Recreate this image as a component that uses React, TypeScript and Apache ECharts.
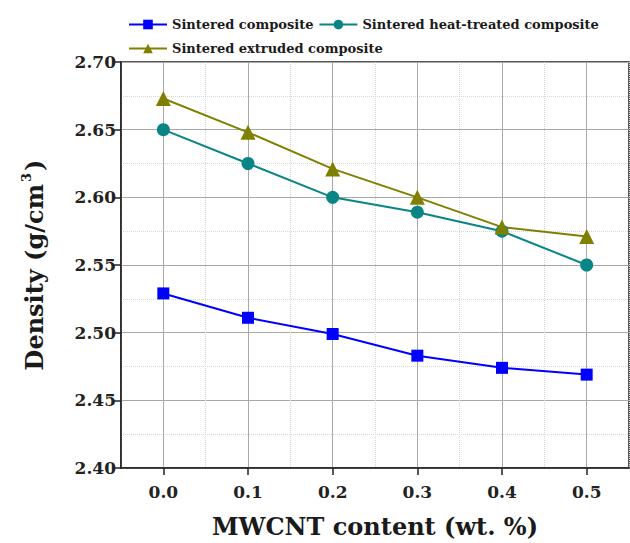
import React, { useEffect, useRef } from "react";
import * as echarts from "echarts";

const xValues = [0, 0.1, 0.2, 0.3, 0.4, 0.5];
const xTickValues = [0, 0.1, 0.2, 0.3, 0.4, 0.5];
const sinteredComposite = [2.529, 2.511, 2.499, 2.483, 2.474, 2.469];
const heatTreatedComposite = [2.65, 2.625, 2.6, 2.589, 2.575, 2.55];
const extrudedComposite = [2.673, 2.648, 2.621, 2.6, 2.578, 2.571];
const seriesNames = [
  "Sintered composite",
  "Sintered heat-treated composite",
  "Sintered extruded composite",
];

const FONT = "DejaVu Serif";

export default function App() {
  const ref = useRef<HTMLDivElement>(null);
  useEffect(() => {
    if (!ref.current) return;
    const chart = echarts.init(ref.current, null, { renderer: "svg" });
    const pair = (ys: number[]) => xValues.map((x, i) => [x, ys[i]]);
    const legendText = { fontFamily: FONT, fontWeight: "bold", fontSize: 13, color: "#1a1a1a" };
    chart.setOption({
      animation: false,
      backgroundColor: "#ffffff",
      legend: [
        {
          data: [seriesNames[0], seriesNames[1]],
          left: 123,
          top: 13,
          itemWidth: 38,
          itemHeight: 12,
          itemGap: 5,
          textStyle: legendText,
        },
        {
          data: [seriesNames[2]],
          left: 123,
          top: 37,
          itemWidth: 38,
          itemHeight: 12,
          textStyle: legendText,
        },
      ],
      grid: {
        left: 121,
        top: 62,
        width: 508,
        height: 408,
        show: true,
        borderColor: "#222",
        borderWidth: 1.5,
        backgroundColor: "transparent",
      },
      xAxis: [
        {
          type: "value",
          min: -0.05,
          max: 0.55,
          interval: 0.1,
          name: "MWCNT content (wt. %)",
          nameLocation: "middle",
          nameGap: 46,
          nameTextStyle: { fontFamily: FONT, fontWeight: "bold", fontSize: 24, color: "#1a1a1a" },
          axisLine: { show: true, onZero: false, lineStyle: { color: "#222", width: 1.5 } },
          axisTick: { show: true, customValues: xTickValues, length: 7, lineStyle: { color: "#222", width: 1.5 } },
          axisLabel: {
            customValues: xTickValues,
            margin: 15,
            formatter: (v: number) => v.toFixed(1),
            fontFamily: FONT,
            fontWeight: "bold",
            fontSize: 17,
            color: "#222",
          },
          splitLine: { show: true, lineStyle: { color: "#a8a8a8", width: 1 } },
        },
        {
          type: "value",
          min: -0.05,
          max: 0.55,
          interval: 0.1,
          position: "bottom",
          axisLine: { show: false },
          axisTick: { show: false },
          axisLabel: { show: false },
          splitLine: { show: true, lineStyle: { color: "#d6d6d6", width: 1, type: "dotted" } },
        },
      ],
      yAxis: {
        type: "value",
        min: 2.4,
        max: 2.7,
        interval: 0.05,
        name: "{a|Density (g/cm}{s|3}{a|)}",
        nameLocation: "middle",
        nameGap: 72,
        nameTextStyle: {
          rich: {
            a: { fontFamily: FONT, fontWeight: "bold", fontSize: 24, color: "#1a1a1a" },
            s: { fontFamily: FONT, fontWeight: "bold", fontSize: 13, color: "#1a1a1a", verticalAlign: "top", padding: [0, 2, 16, 2] },
          },
        },
        axisLine: { show: true, onZero: false, lineStyle: { color: "#222", width: 1.5 } },
        axisTick: { show: true, length: 8, lineStyle: { color: "#222", width: 1.5 } },
        axisLabel: {
          margin: 5,
          formatter: (v: number) => v.toFixed(2),
          fontFamily: FONT,
          fontWeight: "bold",
          fontSize: 17,
          color: "#222",
        },
        splitLine: { show: true, lineStyle: { color: "#a8a8a8", width: 1 } },
        minorTick: { show: false, splitNumber: 2 },
        minorSplitLine: { show: true, lineStyle: { color: "#d6d6d6", width: 1, type: "dotted" } },
      },
      series: [
        {
          name: seriesNames[0],
          type: "line",
          data: pair(sinteredComposite),
          symbol: "rect",
          symbolSize: 12,
          color: "#0000ff",
          lineStyle: { width: 2, color: "#0000ff" },
          itemStyle: { color: "#0000ff" },
          z: 3,
        },
        {
          name: seriesNames[1],
          type: "line",
          data: pair(heatTreatedComposite),
          symbol: "circle",
          symbolSize: 13,
          color: "#0a8585",
          lineStyle: { width: 2, color: "#0a8585" },
          itemStyle: { color: "#0a8585" },
          z: 3,
        },
        {
          name: seriesNames[2],
          type: "line",
          data: pair(extrudedComposite),
          symbol: "triangle",
          symbolSize: 15,
          color: "#808000",
          lineStyle: { width: 2, color: "#808000" },
          itemStyle: { color: "#808000" },
          z: 3,
        },
      ],
    });
    return () => chart.dispose();
  }, []);
  return <div ref={ref} style={{ width: 630, height: 543, position: "absolute", left: 0, top: 0 }} />;
}
